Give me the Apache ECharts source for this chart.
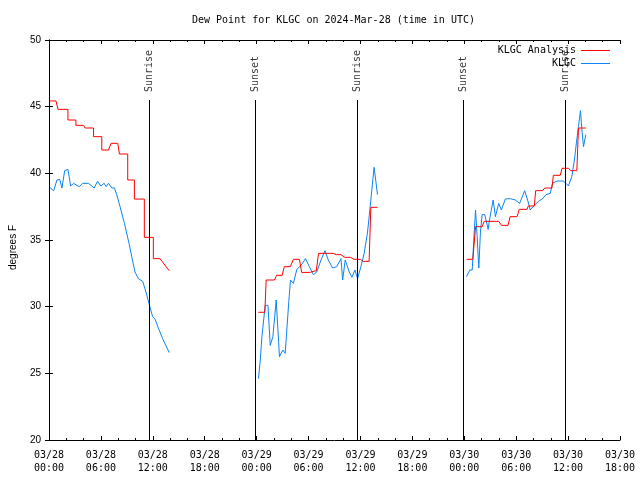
<!DOCTYPE html>
<html>
<head>
<meta charset="utf-8">
<script src="https://cdn.jsdelivr.net/npm/echarts@6/dist/echarts.min.js"></script>
<style>html,body{margin:0;padding:0;background:#fff;}#chart{width:640px;height:480px;}</style>
</head>
<body>
<div id="chart"></div>
<script>
// Hours since 2024-03-28 00:00 UTC
const redTimes1 = [0.12, 0.81, 1.04, 2.19, 2.19, 3.11, 3.11, 4.0, 4.18, 5.15, 5.15, 6.1, 6.1, 6.87, 7.18, 7.95, 8.14, 9.1, 9.1, 9.87, 9.87, 11.02, 11.02, 12.06, 12.06, 12.82, 13.9];
const redVals1  = [45.43, 45.43, 44.8, 44.8, 44.0, 44.0, 43.6, 43.6, 43.4, 43.4, 42.75, 42.75, 41.75, 41.75, 42.25, 42.25, 41.45, 41.45, 39.5, 39.5, 38.07, 38.07, 35.2, 35.2, 33.6, 33.6, 32.7];
const redTimes2 = [24.19, 24.95, 25.1, 26.06, 26.3, 26.95, 27.2, 27.9, 28.25, 28.95, 29.2, 30.15, 30.3, 30.9, 31.15, 32.86, 33.2, 33.75, 34.2, 34.85, 35.25, 36.0, 36.3, 37.0, 37.2, 37.97];
const redVals2  = [29.58, 29.58, 32.0, 32.0, 32.35, 32.35, 33.0, 33.0, 33.55, 33.55, 32.57, 32.57, 32.7, 32.7, 34.0, 34.0, 33.9, 33.9, 33.7, 33.7, 33.55, 33.55, 33.4, 33.4, 37.45, 37.45];
const redTimes3 = [48.26, 48.99, 49.3, 50.07, 50.3, 51.98, 52.3, 53.06, 53.3, 54.1, 54.35, 55.25, 55.4, 56.1, 56.25, 57.05, 57.3, 58.13, 58.3, 59.09, 59.3, 60.04, 60.3, 61.01, 61.2, 62.05];
const redVals3  = [33.55, 33.55, 36.0, 36.0, 36.4, 36.4, 36.1, 36.1, 36.75, 36.75, 37.3, 37.3, 37.55, 37.55, 38.7, 38.7, 38.9, 38.9, 39.85, 39.85, 40.38, 40.38, 40.2, 40.2, 43.4, 43.4];

const blueTimes1 = [0.12, 0.54, 0.92, 1.23, 1.5, 1.81, 2.19, 2.5, 2.84, 3.49, 3.88, 4.57, 5.22, 5.61, 5.99, 6.37, 6.6, 6.88, 7.26, 7.57, 7.83, 8.21, 8.72, 9.25, 9.64, 9.94, 10.33, 10.83, 11.21, 11.55, 11.98, 12.24, 12.64, 13.13, 13.9];
const blueVals1  = [38.92, 38.7, 39.5, 39.55, 38.9, 40.2, 40.3, 39.05, 39.25, 39.0, 39.25, 39.25, 38.9, 39.4, 39.05, 39.25, 39.0, 39.25, 38.9, 38.9, 38.4, 37.5, 36.25, 34.75, 33.5, 32.6, 32.1, 31.9, 31.1, 30.25, 29.25, 29.1, 28.4, 27.6, 26.55];
const blueTimes2 = [24.22, 24.42, 24.61, 24.99, 25.31, 25.57, 25.88, 26.26, 26.64, 27.03, 27.3, 27.72, 27.91, 28.25, 28.65, 29.14, 29.64, 30.1, 30.56, 30.95, 31.44, 31.9, 32.28, 32.79, 33.25, 33.75, 33.94, 34.24, 34.7, 35.01, 35.36, 35.67, 36.05, 36.43, 36.82, 37.2, 37.58, 37.78, 37.97];
const blueVals2  = [24.6, 26.0, 27.75, 30.1, 30.1, 27.1, 27.75, 30.5, 26.25, 26.75, 26.5, 30.4, 32.0, 31.75, 32.8, 33.1, 33.6, 33.0, 32.4, 32.6, 33.5, 34.2, 33.5, 32.9, 33.0, 33.6, 32.0, 33.5, 32.6, 32.2, 32.75, 32.1, 33.0, 34.0, 35.6, 38.0, 40.45, 39.4, 38.4];
const blueTimes3 = [48.26, 48.64, 48.92, 49.1, 49.3, 49.49, 49.68, 49.87, 50.07, 50.37, 50.76, 50.94, 51.34, 51.6, 51.98, 52.29, 52.75, 53.33, 53.9, 54.4, 54.98, 55.32, 55.63, 56.09, 56.59, 57.05, 57.44, 57.94, 58.2, 58.71, 59.47, 60.04, 60.43, 60.73, 61.0, 61.2, 61.43, 61.59, 61.78, 62.05];
const blueVals3  = [32.25, 32.75, 32.75, 35.0, 37.25, 35.25, 32.9, 35.6, 36.9, 36.9, 35.8, 36.6, 38.0, 36.75, 37.75, 37.25, 38.08, 38.1, 38.0, 37.75, 38.7, 38.0, 37.25, 37.6, 37.9, 38.1, 38.4, 38.5, 39.25, 39.42, 39.42, 39.05, 39.75, 41.0, 42.5, 43.5, 44.7, 43.3, 42.0, 42.9];

const eventTimes = [11.58, 23.88, 35.6, 47.92, 59.68];
const eventNames = ['Sunrise', 'Sunset', 'Sunrise', 'Sunset', 'Sunrise'];

const tickDays  = ['03/28', '03/28', '03/28', '03/28', '03/29', '03/29', '03/29', '03/29', '03/30', '03/30', '03/30', '03/30'];
const tickTimes = ['00:00', '06:00', '12:00', '18:00', '00:00', '06:00', '12:00', '18:00', '00:00', '06:00', '12:00', '18:00'];

function joinSegments(segs) {
  const out = [];
  segs.forEach(function (s, i) {
    if (i > 0) out.push([(s[0][0] + out[out.length - 1][0]) / 2, null]);
    for (let k = 0; k < s[0].length; k++) out.push([s[0][k], s[1][k]]);
  });
  return out;
}
const redData = joinSegments([[redTimes1, redVals1], [redTimes2, redVals2], [redTimes3, redVals3]]);
const blueData = joinSegments([[blueTimes1, blueVals1], [blueTimes2, blueVals2], [blueTimes3, blueVals3]]);

const mono = 'DejaVu Sans Mono';
const sans = 'Liberation Sans';
const chart = echarts.init(document.getElementById('chart'), null, {renderer: 'canvas'});

const axisCommon = {
  type: 'value', min: 0, max: 66, interval: 6,
  axisLine: {show: true, lineStyle: {color: '#000', width: 1}},
  axisTick: {show: true, inside: true, length: 4, lineStyle: {color: '#000'}},
  minorTick: {show: true, splitNumber: 3, length: 2, lineStyle: {color: '#000'}},
  splitLine: {show: false}
};
const yCommon = {
  type: 'value', min: 20, max: 50, interval: 5,
  axisLine: {show: true, lineStyle: {color: '#000', width: 1}},
  axisTick: {show: true, inside: true, length: 4, lineStyle: {color: '#000'}},
  splitLine: {show: false}
};
const legendCommon = {
  orient: 'vertical', right: 30, align: 'right', icon: 'rect',
  itemWidth: 29, itemHeight: 1, itemGap: 0, padding: 0,
  textStyle: {fontFamily: mono, fontSize: 10, color: '#000'}
};

chart.setOption({
  animation: false,
  backgroundColor: '#fff',
  title: {
    text: 'Dew Point for KLGC on 2024-Mar-28 (time in UTC)',
    left: 192, top: 15.5, padding: 0,
    textStyle: {fontFamily: mono, fontSize: 10, fontWeight: 'normal', color: '#000'}
  },
  legend: [
    Object.assign({}, legendCommon, {data: ['KLGC Analysis'], top: 45.5}),
    Object.assign({}, legendCommon, {data: ['KLGC'], top: 58.5})
  ],
  grid: {left: 47, right: 20, top: 40, bottom: 40, containLabel: false},
  xAxis: [
    Object.assign({}, axisCommon, {
      position: 'bottom',
      axisLabel: {
        show: true, margin: 8.5, color: '#000', fontFamily: mono, fontSize: 10, lineHeight: 13,
        formatter: function (v) { const i = Math.round(v / 6); return tickDays[i] !== undefined ? tickDays[i] + '\n' + tickTimes[i] : ''; }
      }
    }),
    Object.assign({}, axisCommon, {position: 'top', axisLabel: {show: false}})
  ],
  yAxis: [
    Object.assign({}, yCommon, {
      position: 'left',
      name: 'degrees F', nameLocation: 'middle', nameRotate: 90, nameGap: 31,
      nameTextStyle: {fontFamily: sans, fontSize: 10, color: '#000', padding: [0, 15, 0, 0]},
      axisLabel: {show: true, margin: 8, color: '#000', fontFamily: sans, fontSize: 10}
    }),
    Object.assign({}, yCommon, {position: 'right', axisLabel: {show: false}})
  ],
  series: [
    {
      name: 'KLGC Analysis', type: 'line', data: redData, symbol: 'none', showSymbol: false,
      connectNulls: false, color: '#ff0000', lineStyle: {color: '#ff0000', width: 1}, z: 3,
      markLine: {
        silent: true, symbol: ['none', 'none'], label: {show: false},
        lineStyle: {color: '#000', width: 1, type: 'solid'},
        data: eventTimes.map(function (t) { return [{coord: [t, 20]}, {coord: [t, 45.5]}]; })
      }
    },
    {
      name: 'KLGC', type: 'line', data: blueData, symbol: 'none', showSymbol: false,
      connectNulls: false, color: '#0a84f5', lineStyle: {color: '#0a84f5', width: 1}, z: 2
    },
    {
      name: 'events', type: 'scatter', symbolSize: 0, silent: true,
      data: eventTimes.map(function (t, i) { return {value: [t, 46.1], name: eventNames[i]}; }),
      label: {
        show: true, position: 'inside', rotate: 90, align: 'left', verticalAlign: 'middle',
        fontFamily: mono, fontSize: 10, color: '#000',
        formatter: function (p) { return p.name; }
      }
    }
  ]
});
</script>
</body>
</html>
